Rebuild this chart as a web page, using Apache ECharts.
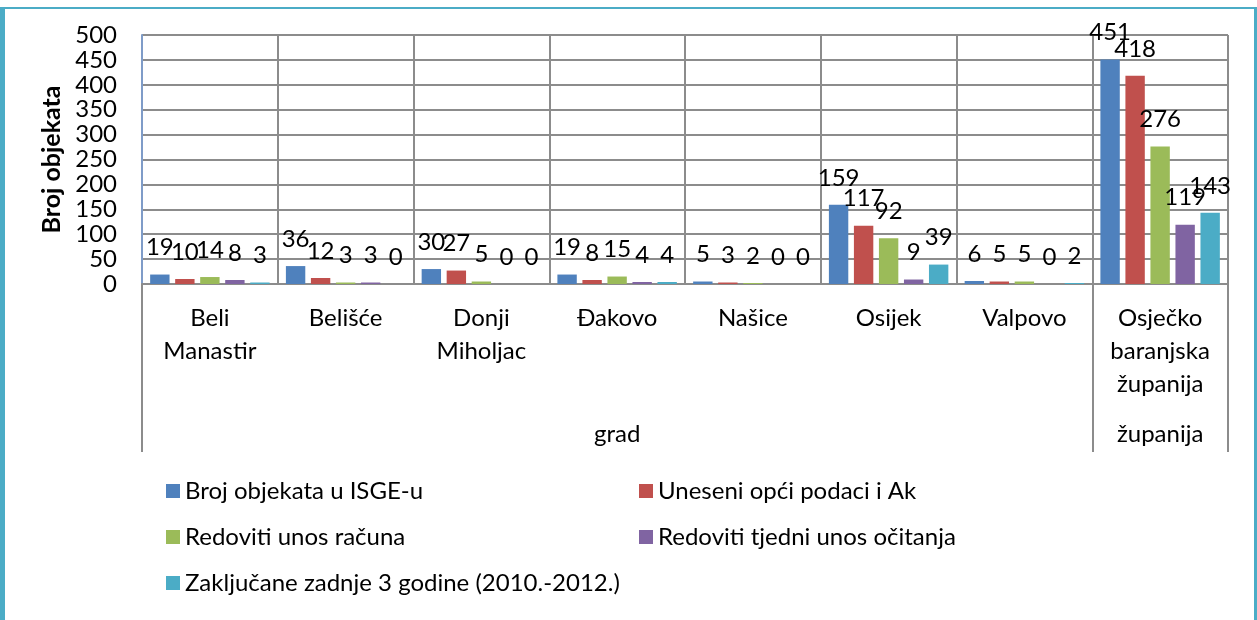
<!DOCTYPE html>
<html>
<head>
<meta charset="utf-8">
<script src="https://cdn.jsdelivr.net/npm/echarts@6/dist/echarts.min.js"></script>
<style>
  html, body { margin: 0; padding: 0; background: #fff; }
  #frame {
    position: absolute; left: 0; top: 7px; width: 1249px; height: 620px;
    border-left: 5px solid #4bacc6; border-top: 2px solid #4bacc6; border-right: 3px solid #4bacc6;
  }
  #chart { position: absolute; left: 0; top: 0; width: 1257px; height: 620px; }
</style>
</head>
<body>
<div id="frame"></div>
<div id="chart"></div>
<script>
// Chart data
const cities = ['Beli\nManastir', 'Belišće', 'Donji\nMiholjac', 'Đakovo', 'Našice', 'Osijek', 'Valpovo', 'Osječko\nbaranjska\nžupanija'];
const groups = ['', '', '', 'grad', '', '', '', 'županija'];

const seriesNames = [
  'Broj objekata u ISGE-u',
  'Uneseni opći podaci i Ak',
  'Redoviti unos računa',
  'Redoviti tjedni unos očitanja',
  'Zaključane zadnje 3 godine (2010.-2012.)'
];
const brojObjekata = [19, 36, 30, 19, 5, 159, 6, 451];
const uneseniPodaci = [10, 12, 27, 8, 3, 117, 5, 418];
const unosRacuna = [14, 3, 5, 15, 2, 92, 5, 276];
const tjedniUnos = [8, 3, 0, 4, 0, 9, 0, 119];
const zakljucane = [3, 0, 0, 4, 0, 39, 2, 143];

const colors = ['#4f81bd', '#c0504d', '#9bbb59', '#8064a2', '#4bacc6'];
const font = 'Lato';
const fontSize = 24;
const gridColor = '#8c8c8c';

function barSeries(name, data, color) {
  return {
    name: name,
    type: 'bar',
    data: data,
    barGap: '29%',
    barCategoryGap: '12%',
    itemStyle: { color: color },
    label: {
      show: true,
      position: 'top',
      distance: 15,
      color: '#000',
      fontFamily: font,
      fontSize: fontSize
    }
  };
}

var chart = echarts.init(document.getElementById('chart'));

option = {
  animation: false,
  color: colors,
  textStyle: { fontFamily: font },
  grid: { left: 142, right: 29, top: 35, bottom: 336, containLabel: false },
  legend: [
    {
      data: [seriesNames[0], seriesNames[2], seriesNames[4]],
      orient: 'vertical',
      left: 166,
      top: 478,
      padding: 0,
      icon: 'rect',
      itemWidth: 14,
      itemHeight: 14,
      itemGap: 20,
      textStyle: { fontFamily: font, fontSize: fontSize, lineHeight: 26, color: '#000' }
    },
    {
      data: [seriesNames[1], seriesNames[3]],
      orient: 'vertical',
      left: 639,
      top: 478,
      padding: 0,
      icon: 'rect',
      itemWidth: 14,
      itemHeight: 14,
      itemGap: 20,
      textStyle: { fontFamily: font, fontSize: fontSize, lineHeight: 26, color: '#000' }
    }
  ],
  xAxis: [
    {
      type: 'category',
      data: cities,
      position: 'bottom',
      axisLine: { show: true, lineStyle: { color: gridColor, width: 2 } },
      axisTick: {
        show: true,
        length: 168,
        interval: function (index) { return index === 0 || index === 7; },
        lineStyle: { color: gridColor, width: 2 }
      },
      splitLine: { show: true, interval: 0, lineStyle: { color: gridColor, width: 2 } },
      axisLabel: {
        interval: 0,
        margin: 18,
        color: '#000',
        fontFamily: font,
        fontSize: fontSize,
        lineHeight: 33
      }
    },
    {
      type: 'category',
      data: groups,
      position: 'bottom',
      axisLine: { show: false },
      axisTick: { show: false },
      splitLine: { show: false },
      axisLabel: {
        interval: 0,
        margin: 134,
        color: '#000',
        fontFamily: font,
        fontSize: fontSize,
        lineHeight: 33
      }
    }
  ],
  yAxis: {
    type: 'value',
    min: 0,
    max: 500,
    interval: 50,
    name: 'Broj objekata',
    nameLocation: 'middle',
    nameGap: 74,
    nameTextStyle: { fontFamily: font, fontSize: 25, fontWeight: 'bold', color: '#000' },
    axisLine: { show: true, lineStyle: { color: '#7f9cc8', width: 2 } },
    axisTick: { show: false },
    splitLine: { show: true, lineStyle: { color: gridColor, width: 2 } },
    axisLabel: { margin: 25, color: '#000', fontFamily: font, fontSize: fontSize }
  },
  series: [
    barSeries(seriesNames[0], brojObjekata, colors[0]),
    barSeries(seriesNames[1], uneseniPodaci, colors[1]),
    barSeries(seriesNames[2], unosRacuna, colors[2]),
    barSeries(seriesNames[3], tjedniUnos, colors[3]),
    barSeries(seriesNames[4], zakljucane, colors[4])
  ]
};

chart.setOption(option);
</script>
</body>
</html>
